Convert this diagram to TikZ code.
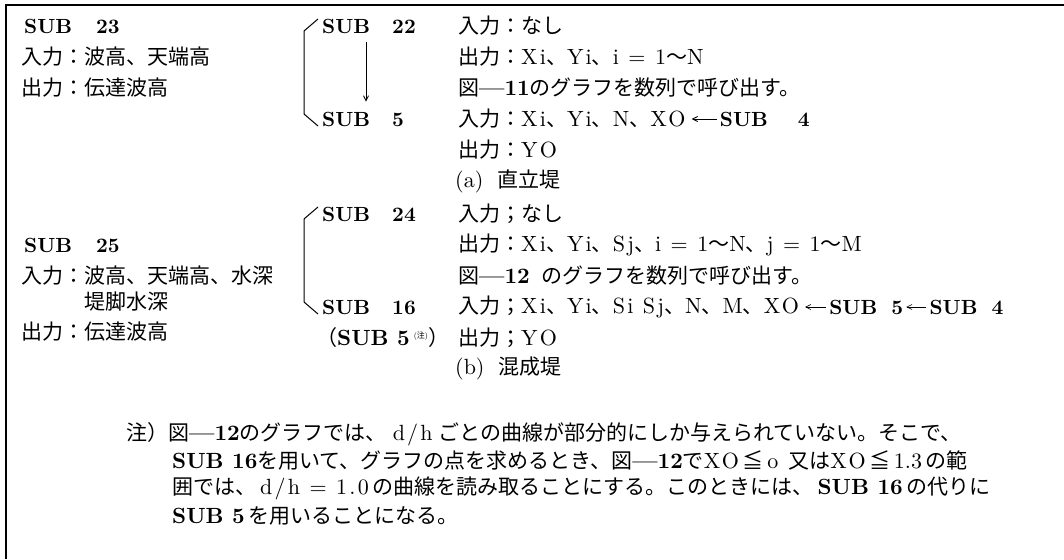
\documentclass[tikz,border=0pt]{standalone}
\usepackage{fontspec}
\setmainfont{lmroman10-regular.otf}[BoldFont=lmroman10-bold.otf, ItalicFont=lmroman10-italic.otf]
\newfontfamily\jp{Noto Sans CJK JP}
\usetikzlibrary{arrows.meta}
\newcommand{\jt}[1]{{\jp\fontsize{21}{21}\selectfont #1}}
\newcommand{\la}[1]{{\addfontfeature{LetterSpace=10}#1}}
\newcommand{\subr}[2][24pt]{{\fontsize{20.5}{20}\selectfont\textbf{SUB\hspace{#1}#2}}}
\tikzset{
  txt/.style={anchor=west, inner sep=0pt, font=\fontsize{22}{22}\selectfont},
  brk/.style={line width=1pt},
  arr/.style={-{Straight Barb[length=5pt,width=5pt]}, line width=0.8pt},
  frame/.style={line width=1.6pt}
}
\begin{document}
\begin{tikzpicture}[x=1pt,y=-1pt]
\useasboundingbox (0,0) rectangle (1064,559);
\fill[white] (0,0) rectangle (1064,559);
\draw[frame] (6,559) -- (6,5) -- (1064,5);

% upper left
\node[txt] (s23) at (24,26) {\subr{23}};
\node[txt] (s23i) at (21,57) {\jt{入力：波高、天端高}};
\node[txt] (s23o) at (21,88) {\jt{出力：伝達波高}};

% upper right
\node[txt] (s22) at (322,26) {\subr[22pt]{22}};
\node[txt] (s22i) at (458,26) {\jt{入力：なし}};
\node[txt] (s22o) at (458,57) {\jt{出力：}\la{Xi}\jt{、}\la{Yi}\jt{、}\la{i = 1}\jt{〜}\la{N}};
\node[txt] (s22g) at (458,88) {\jt{図}\textbf{—11}\jt{のグラフを数列で呼び出す。}};
\node[txt] (s5) at (322,119) {\subr[22pt]{5}};
\node[txt] (s5i) at (458,119) {\jt{入力：}\la{Xi}\jt{、}\la{Yi}\jt{、}\la{N}\jt{、}\la{XO}};
\node[txt] (s4a) at ([xshift=34pt]s5i.east) {\subr[30pt]{4}};
\node[txt] (s5o) at (458,150) {\jt{出力：}\la{YO}};
\node[txt] (capa) at (455,181) {(a)\hspace{14pt}\jt{直立堤}};

\draw[brk] ([shift={(-4,-7)}]s22.west) -- ([shift={(-18,5)}]s22.west)
  -- ([shift={(-18,-5)}]s5.west) -- ([shift={(-4,7)}]s5.west);
\draw[arr, shorten <=9pt, shorten >=10pt] ([xshift=44pt]s22.south west) -- ([xshift=44pt]s5.north west);
\draw[arr, shorten <=3pt, shorten >=6pt] (s4a.west) -- (s5i.east);

% lower left
\node[txt] (s25) at (24,245) {\subr{25}};
\node[txt] (s25i) at (21,276) {\jt{入力：波高、天端高、水深}};
\node[txt] (s25i2) at (84,302) {\jt{堤脚水深}};
\node[txt] (s25o) at (21,332) {\jt{出力：伝達波高}};

% lower right
\node[txt] (s24) at (322,214) {\subr[22pt]{24}};
\node[txt] (s24i) at (458,214) {\jt{入力；なし}};
\node[txt] (s24o) at (458,245) {\jt{出力：}\la{Xi}\jt{、}\la{Yi}\jt{、}\la{Sj}\jt{、}\la{i = 1}\jt{〜}\la{N}\jt{、}\la{j = 1}\jt{〜}\la{M}};
\node[txt] (s24g) at (458,276) {\jt{図}\textbf{—12}\hspace{12pt}\jt{のグラフを数列で呼び出す。}};
\node[txt] (s16) at (322,307) {\subr[22pt]{16}};
\node[txt] (s16i) at (458,307) {\jt{入力；}\la{Xi}\jt{、}\la{Yi}\jt{、}\la{Si Sj}\jt{、}\la{N}\jt{、}\la{M}\jt{、}\la{XO}};
\node[txt] (s5b) at ([xshift=30pt]s16i.east) {\subr[14pt]{5}};
\node[txt] (s4b) at ([xshift=26pt]s5b.east) {\subr[14pt]{4}};
\node[txt] (s5n) at (316,338) {\jt{（}\textbf{SUB 5}\hspace{4pt}{\fontsize{8}{8}\selectfont\raisebox{7pt}{(\jt{\fontsize{8}{8}\selectfont 注})}}\jt{）}};
\node[txt] (s16o) at (458,338) {\jt{出力；}\la{YO}};
\node[txt] (capb) at (455,368) {(b)\hspace{14pt}\jt{混成堤}};

\draw[brk] ([shift={(-4,-7)}]s24.west) -- ([shift={(-18,5)}]s24.west)
  -- ([shift={(-18,-5)}]s16.west) -- ([shift={(-4,7)}]s16.west);
\draw[arr, line width=0.6pt, shorten <=3pt, shorten >=6pt] (s5b.west) -- (s16i.east);
\draw[arr, line width=0.6pt, shorten <=3pt, shorten >=3pt] (s4b.west) -- (s5b.east);

% note
\node[txt] (n1) at (126,434) {\jt{注）図}\textbf{—12}\jt{のグラフでは、}\hspace{6pt}\la{d/h}\hspace{6pt}\jt{ごとの曲線が部分的にしか与えられていない。そこで、}};
\node[txt] (n2) at (172,461) {\textbf{SUB 16}\jt{を用いて、グラフの点を求めるとき、図}\textbf{—12}\jt{で}\la{XO}\,\jt{≦}\,o\hspace{10pt}\jt{又は}\la{XO}\,\jt{≦}\,1.3\,\jt{の範}};
\node[txt] (n3) at (172,488) {\jt{囲では、}\hspace{4pt}\la{d/h = 1.0}\,\jt{の曲線を読み取ることにする。このときには、}\hspace{4pt}\textbf{SUB 16}\,\jt{の代りに}};
\node[txt] (n4) at (172,516) {\textbf{SUB 5}\,\jt{を用いることになる。}};
\end{tikzpicture}
\end{document}
